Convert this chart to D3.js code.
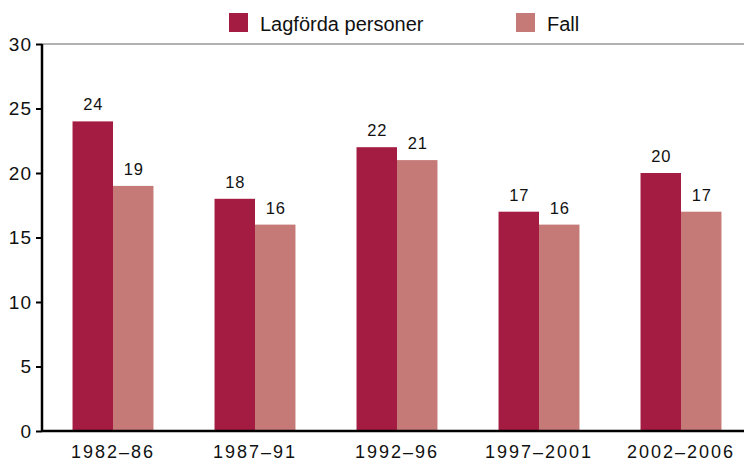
<!DOCTYPE html>
<html>
<head>
<meta charset="utf-8">
<script src="https://cdn.jsdelivr.net/npm/d3@7"></script>
<style>
  body { margin: 0; background: #fff; }
  svg { font-family: "Liberation Sans", Arial, sans-serif; }
</style>
</head>
<body>
<svg id="chart"></svg>
<script>
var periods = ["1982–86", "1987–91", "1992–96", "1997–2001", "2002–2006"];
var seriesNames = ["Lagförda personer", "Fall"];
var lagforda = [24, 18, 22, 17, 20];
var fall = [19, 16, 21, 16, 17];
var yTicks = [0, 5, 10, 15, 20, 25, 30];

var colors = ["#a51c42", "#c57a78"];
var width = 744, height = 466;
var mLeft = 42, mRight = 752, mTop = 44, mBottom = 431;

var svg = d3.select("#chart").attr("width", width).attr("height", height);

var rows = periods.map(function(p, i) { return {period: p, values: [lagforda[i], fall[i]]}; });

var x0 = d3.scaleBand().domain(periods).range([mLeft, mRight])
  .paddingInner(0.43).paddingOuter(0.215);
var x1 = d3.scaleBand().domain([0, 1]).range([0, x0.bandwidth()]);
var y = d3.scaleLinear().domain([0, 30]).range([mBottom, mTop]);

// top border line
svg.append("line").attr("x1", mLeft).attr("x2", width).attr("y1", mTop).attr("y2", mTop)
  .attr("stroke", "#999").attr("stroke-width", 1.5);

// bars
var g = svg.selectAll("g.grp").data(rows).enter().append("g")
  .attr("class", "grp")
  .attr("transform", function(d) { return "translate(" + x0(d.period) + ",0)"; });

g.selectAll("rect").data(function(d) { return d.values; }).enter().append("rect")
  .attr("x", function(d, i) { return x1(i); })
  .attr("width", x1.bandwidth())
  .attr("y", function(d) { return y(d); })
  .attr("height", function(d) { return mBottom - y(d); })
  .attr("fill", function(d, i) { return colors[i]; });

g.selectAll("text").data(function(d) { return d.values; }).enter().append("text")
  .attr("x", function(d, i) { return x1(i) + x1.bandwidth() / 2 + 0.5; })
  .attr("y", function(d) { return y(d) - 11; })
  .attr("text-anchor", "middle")
  .attr("font-size", 16.5)
  .attr("letter-spacing", 0.8)
  .attr("fill", "#111")
  .text(function(d) { return d; });

// y axis
var yAxis = svg.append("g").attr("transform", "translate(" + mLeft + ",0)")
  .call(d3.axisLeft(y).tickValues(yTicks).tickSize(6).tickPadding(4));
yAxis.select(".domain").attr("stroke", "#000").attr("stroke-width", 2.5)
  .attr("d", "M0," + mBottom + "V" + mTop);
yAxis.selectAll(".tick line").attr("stroke", "#000").attr("stroke-width", 2);
yAxis.selectAll(".tick text").attr("font-size", 19).attr("fill", "#111")
  .attr("letter-spacing", 1)
  .attr("font-family", "Liberation Sans, Arial, sans-serif");

// x axis
var xAxis = svg.append("g").attr("transform", "translate(0," + mBottom + ")")
  .call(d3.axisBottom(x0).tickSize(0).tickPadding(14));
xAxis.select(".domain").attr("stroke", "#000").attr("stroke-width", 2.5)
  .attr("d", "M" + mLeft + ",0H" + width);
xAxis.selectAll(".tick text").attr("font-size", 18).attr("fill", "#111")
  .attr("letter-spacing", 2)
  .attr("font-family", "Liberation Sans, Arial, sans-serif");

// legend
var legendX = [229, 516];
var leg = svg.selectAll("g.leg").data(seriesNames).enter().append("g")
  .attr("class", "leg")
  .attr("transform", function(d, i) { return "translate(" + legendX[i] + ",13)"; });
leg.append("rect").attr("width", 19).attr("height", 19)
  .attr("fill", function(d, i) { return colors[i]; });
leg.append("text").attr("x", 31).attr("y", 18).attr("font-size", 20).attr("fill", "#111")
  .text(function(d) { return d; });
</script>
</body>
</html>
